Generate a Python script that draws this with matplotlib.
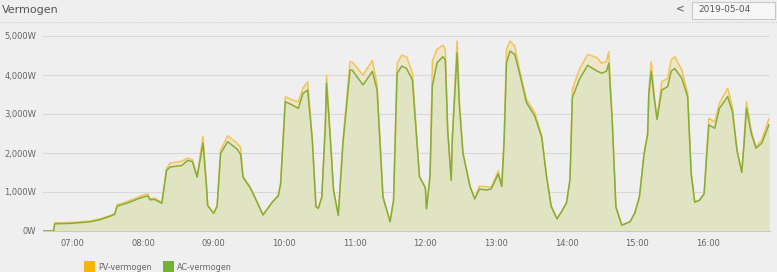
#!/usr/bin/env python3
import matplotlib

matplotlib.use("Agg")
import matplotlib.pyplot as plt
import matplotlib.dates as mdates
import pandas as pd
from matplotlib.patches import Rectangle

DAY = "2019-05-04"

# times in HH:MM, power in W
times = [
    "06:35", "06:44", "06:45", "06:58", "07:15", "07:24", "07:34", "07:36", "07:38", "07:47",
    "07:58", "08:04", "08:06", "08:10", "08:16", "08:20", "08:23", "08:33", "08:38", "08:42",
    "08:46", "08:51", "08:54", "08:55", "09:00", "09:03", "09:06", "09:12", "09:20", "09:23",
    "09:25", "09:31", "09:35", "09:42", "09:50", "09:55", "09:57", "10:01", "10:07", "10:12",
    "10:16", "10:20", "10:24", "10:27", "10:29", "10:32", "10:35", "10:36", "10:39", "10:42",
    "10:46", "10:50", "10:56", "10:58", "11:07", "11:15", "11:19", "11:24", "11:30", "11:33",
    "11:36", "11:40", "11:44", "11:49", "11:55", "12:00", "12:01", "12:04", "12:06", "12:10",
    "12:15", "12:17", "12:19", "12:22", "12:23", "12:27", "12:29", "12:32", "12:35", "12:38",
    "12:42", "12:46", "12:52", "12:56", "13:02", "13:05", "13:07", "13:09", "13:12", "13:16",
    "13:20", "13:26", "13:33", "13:39", "13:43", "13:47", "13:52", "13:56", "14:00", "14:03",
    "14:05", "14:11", "14:18", "14:26", "14:30", "14:34", "14:36", "14:39", "14:42", "14:47",
    "14:54", "14:58", "15:02", "15:06", "15:09", "15:10", "15:12", "15:15", "15:17", "15:21",
    "15:26", "15:29", "15:32", "15:38", "15:43", "15:46", "15:49", "15:53", "15:57", "15:59",
    "16:01", "16:06", "16:10", "16:17", "16:21", "16:25", "16:29", "16:31", "16:33", "16:37",
    "16:41", "16:46", "16:52",
]
pv_power = [
    0, 0, 210, 215, 255, 315, 420, 450, 670, 760,
    900, 950, 830, 840, 730, 1600, 1740, 1790, 1870, 1830,
    1400, 2430, 1150, 665, 460, 640, 2075, 2440, 2250, 2140,
    1400, 1135, 880, 420, 750, 920, 1230, 3445, 3360, 3315,
    3660, 3830, 2335, 640, 590, 880, 2770, 4000, 2510, 1050,
    410, 2335, 4340, 4330, 4000, 4370, 3750, 880, 240, 795,
    4300, 4510, 4470, 4050, 1400, 1120, 570, 1410, 4360, 4660,
    4760, 4660, 2615, 1310, 2435, 4870, 3290, 2010, 1590, 1155,
    830, 1155, 1130, 1120, 1540, 1155, 2435, 4660, 4870, 4745,
    4145, 3375, 3035, 2435, 1410, 640, 315, 515, 725, 1335,
    3630, 4145, 4530, 4445, 4300, 4350, 4600, 2770, 625, 155,
    240, 460, 880, 2000, 2510, 3615, 4340, 3360, 2890, 3830,
    3915, 4385, 4470, 4130, 3530, 1485, 750, 795, 965, 1900,
    2890, 2800, 3275, 3660, 3190, 2075, 1520, 2335, 3315, 2590,
    2160, 2335, 2870,
]
ac_power = [
    0, 0, 185, 195, 235, 295, 400, 430, 640, 720,
    850, 900, 800, 810, 710, 1550, 1640, 1680, 1810, 1780,
    1380, 2250, 1130, 650, 450, 630, 1990, 2290, 2100, 1960,
    1380, 1110, 870, 410, 740, 900, 1200, 3315, 3230, 3145,
    3530, 3615, 2300, 620, 580, 860, 2700, 3785, 2480, 1040,
    400, 2250, 4130, 4120, 3745, 4090, 3615, 870, 235, 780,
    4045, 4230, 4170, 3870, 1390, 1110, 565, 1400, 3720, 4315,
    4470, 4380, 2580, 1300, 2400, 4570, 3200, 1990, 1570, 1140,
    820, 1075, 1050, 1080, 1460, 1140, 2300, 4315, 4615, 4530,
    4060, 3290, 2950, 2400, 1400, 630, 310, 505, 715, 1320,
    3420, 3890, 4250, 4100, 4045, 4100, 4300, 2740, 615, 150,
    235, 455, 870, 1980, 2480, 3500, 4090, 3300, 2860, 3615,
    3700, 4100, 4170, 3915, 3445, 1470, 740, 785, 950, 1870,
    2720, 2635, 3145, 3445, 3060, 2050, 1500, 2250, 3145, 2510,
    2125, 2250, 2720,
]
y_ticks = [0, 1000, 2000, 3000, 4000, 5000]
x_ticks = ["07:00", "08:00", "09:00", "10:00", "11:00", "12:00", "13:00", "14:00", "15:00", "16:00"]

BG = "#efefef"
PV_LINE = "#f2c45a"
AC_LINE = "#86ad38"
AC_FILL = "#e1e4c3"
PV_FILL = "#ede6c9"
TEXT = "#666666"


def to_dt(hhmm):
    return pd.Timestamp(f"{DAY} {hhmm}")


def main():
    t = [to_dt(s) for s in times]

    fig = plt.figure(figsize=(7.77, 2.72), dpi=100, facecolor=BG)
    ax = fig.add_axes([43 / 777, 41 / 272, 727 / 777, 195 / 272])
    ax.set_facecolor(BG)

    ax.fill_between(t, pv_power, color=PV_FILL, lw=0, zorder=1)
    ax.fill_between(t, ac_power, color=AC_FILL, lw=0, zorder=2)
    ax.plot(t, pv_power, color=PV_LINE, lw=1.1, zorder=3)
    ax.plot(t, ac_power, color=AC_LINE, lw=1.1, zorder=4)

    ax.set_xlim(to_dt("06:35"), to_dt("16:53"))
    ax.set_ylim(0, 5000)
    ax.set_yticks(y_ticks)
    ax.set_yticklabels([f"{v:,}W" for v in y_ticks])
    ax.set_xticks([to_dt(s) for s in x_ticks])
    ax.xaxis.set_major_formatter(mdates.DateFormatter("%H:%M"))
    ax.tick_params(axis="both", length=0, labelsize=6, labelcolor=TEXT)
    ax.tick_params(axis="x", pad=6)
    ax.tick_params(axis="y", pad=5)
    ax.grid(axis="y", color="#d8d8d8", lw=0.8, zorder=0)
    for side in ("top", "right", "left"):
        ax.spines[side].set_visible(False)
    ax.spines["bottom"].set_color("#c8c8c8")

    # header: title, dotted rule, date picker
    fig.text(2 / 777, 1 - 10 / 272, "Vermogen", fontsize=8, color="#555555", va="center")
    fig.add_artist(plt.Line2D([0, 1], [1 - 22 / 272] * 2, color="#d0d0d0", lw=0.8, ls=(0, (1, 1))))
    fig.text(680 / 777, 1 - 9 / 272, "<", fontsize=7.5, color="#777777", va="center", ha="center",
             fontweight="bold")
    fig.add_artist(Rectangle((692 / 777, 1 - 19 / 272), 83 / 777, 17 / 272, transform=fig.transFigure,
                             facecolor="#f6f6f6", edgecolor="#c8c8c8", lw=0.8))
    fig.text(698 / 777, 1 - 10 / 272, DAY, fontsize=6.5, color="#555555", va="center")

    # legend at the bottom
    fig.add_artist(Rectangle((84 / 777, 0), 11 / 777, 11 / 272, transform=fig.transFigure,
                             facecolor="#f5b50a", edgecolor="none"))
    fig.text(98 / 777, 5 / 272, "PV-vermogen", fontsize=5.8, color=TEXT, va="center")
    fig.add_artist(Rectangle((163 / 777, 0), 11 / 777, 11 / 272, transform=fig.transFigure,
                             facecolor="#71b433", edgecolor="none"))
    fig.text(177 / 777, 5 / 272, "AC-vermogen", fontsize=5.8, color=TEXT, va="center")

    fig.savefig("out.png", dpi=100, facecolor=BG)
    plt.close(fig)


if __name__ == "__main__":
    main()
